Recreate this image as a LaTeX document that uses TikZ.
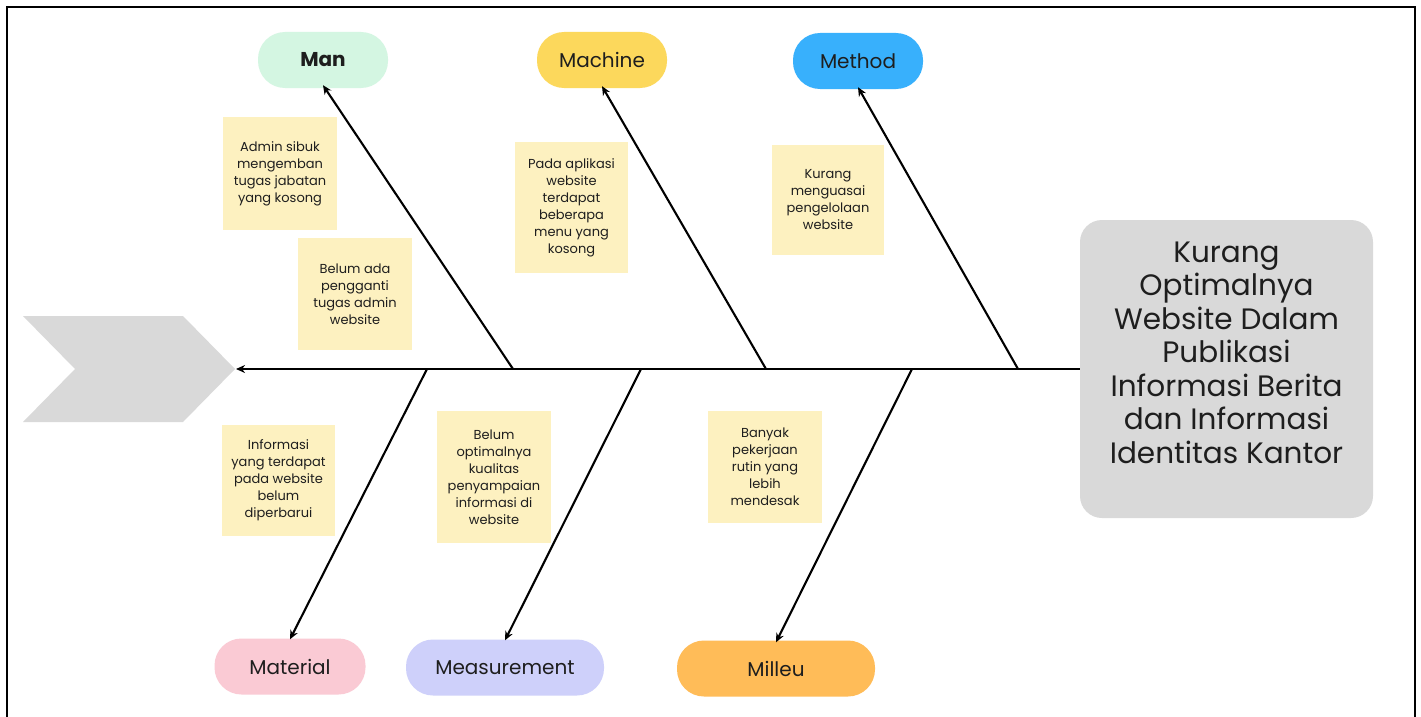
\documentclass[tikz,border=0pt]{standalone}
\usepackage{fontspec}
\setmainfont{Poppins}
\usetikzlibrary{arrows.meta}
\definecolor{notefill}{RGB}{253,241,192}
\definecolor{mangreen}{RGB}{212,246,226}
\definecolor{machyellow}{RGB}{252,216,92}
\definecolor{methblue}{RGB}{56,176,252}
\definecolor{matpink}{RGB}{250,202,212}
\definecolor{measlav}{RGB}{206,208,250}
\definecolor{milorange}{RGB}{255,188,88}
\definecolor{boxgray}{RGB}{217,217,217}
\definecolor{txt}{RGB}{30,30,30}
\tikzset{
  catbox/.style={rounded corners=27pt, minimum height=56pt, inner sep=0pt, text=txt, font=\fontsize{20}{24}\selectfont},
  note/.style={fill=notefill, inner sep=0pt, align=center, text=txt, font=\fontsize{13}{17}\selectfont},
  rib/.style={line width=2.1pt, -{Stealth[length=9pt,width=8pt]}},
}
\begin{document}
\begin{tikzpicture}[x=1pt,y=-1pt]
\useasboundingbox (0,0) rectangle (1421,717);
\fill[white] (0,0) rectangle (1421,717);
% frame
\draw[line width=2.2pt] (7,717) -- (7,7) -- (1415,7) -- (1415,717);
% chevron head
\fill[boxgray] (23,316) -- (183,316) -- (235,369) -- (183,422) -- (23,422) -- (75,369) -- cycle;
\coordinate (tip) at (236,369);
% effect box
\node[fill=boxgray, rounded corners=22pt, minimum width=293pt, minimum height=298pt, inner sep=0pt,
      align=center, text=txt, font=\fontsize{29.5}{33.5}\selectfont] (main) at (1226.5,369)
  {Kurang\\Optimalnya\\Website Dalam\\Publikasi\\Informasi Berita\\dan Informasi\\Identitas Kantor\\\mbox{}};
% category boxes
\node[catbox, fill=mangreen, minimum width=130pt, font=\fontsize{20}{24}\selectfont\bfseries] (man) at (323,60) {Man};
\node[catbox, fill=machyellow, minimum width=130pt] (machine) at (602,60) {Machine};
\node[catbox, fill=methblue, minimum width=130pt] (method) at (858,61) {Method};
\node[catbox, fill=matpink, minimum width=151pt] (material) at (290,666.5) {Material};
\node[catbox, fill=measlav, minimum width=198pt] (measure) at (505,667.5) {Measurement};
\node[catbox, fill=milorange, minimum width=198pt] (milleu) at (776,668.5) {Milleu};
% junctions on spine
\coordinate (j1) at (513,369);
\coordinate (j2) at (766,369);
\coordinate (j3) at (1018,369);
\coordinate (j4) at (427,369);
\coordinate (j5) at (641,369);
\coordinate (j6) at (912,369);
% spine
\draw[rib] (main.west |- j1) -- (tip);
% ribs
\draw[rib] (j1) -- ([yshift=3pt]man.south);
\draw[rib] (j2) -- ([yshift=2pt]machine.south);
\draw[rib] (j3) -- ([yshift=2pt]method.south);
\draw[rib] (j4) -- ([yshift=-1pt]material.north);
\draw[rib] (j5) -- ([yshift=-1pt]measure.north);
\draw[rib] (j6) -- ([yshift=-2pt]milleu.north);
% notes
\node[note, minimum width=114pt, minimum height=113pt] (n1) at (280,173.5) {Admin sibuk\\mengemban\\tugas jabatan\\yang kosong};
\node[note, minimum width=114pt, minimum height=112pt] (n2) at (355,294) {Belum ada\\pengganti\\tugas admin\\website};
\node[note, minimum width=113pt, minimum height=131pt] (n3) at (571.5,207.5) {Pada aplikasi\\website\\terdapat\\beberapa\\menu yang\\kosong};
\node[note, minimum width=112pt, minimum height=110pt] (n4) at (828,200) {Kurang\\menguasai\\pengelolaan\\website};
\node[note, minimum width=113pt, minimum height=111pt] (n5) at (278.5,480.5) {Informasi\\yang terdapat\\pada website\\belum\\diperbarui};
\node[note, minimum width=114pt, minimum height=132pt] (n6) at (494,477) {Belum\\optimalnya\\kualitas\\penyampaian\\informasi di\\website};
\node[note, minimum width=114pt, minimum height=112pt] (n7) at (765,467) {Banyak\\pekerjaan\\rutin yang\\lebih\\mendesak};
\end{tikzpicture}
\end{document}
